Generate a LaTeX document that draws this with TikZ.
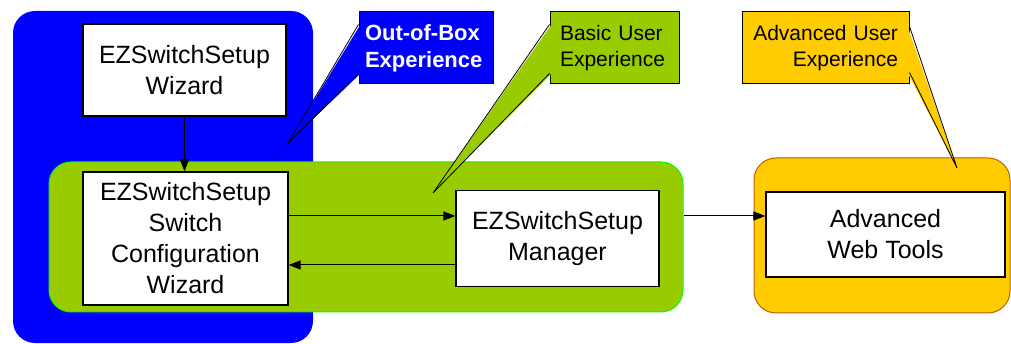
\documentclass[tikz,border=0pt]{standalone}
\usepackage{fontspec}
\setmainfont{Liberation Sans}
\usepackage{tikz}
\usetikzlibrary{arrows.meta,positioning}
\usepackage{xcolor}
\definecolor{oobeblue}{HTML}{0000FF}
\definecolor{basicgreen}{HTML}{99CC00}
\definecolor{basicedge}{HTML}{00FF00}
\definecolor{advorange}{HTML}{FFCC00}
\definecolor{advedge}{HTML}{C06000}

\tikzset{
  region/.style={rounded corners=22pt, inner sep=0pt},
  toolbox/.style={draw=black, fill=white, line width=1.2pt, align=center, inner sep=0pt,
    font=\fontsize{25}{31}\selectfont},
  notebox/.style={draw=black, line width=1pt, inner ysep=0pt, minimum height=72pt,
    font=\fontsize{21}{26}\selectfont},
  tail/.style={draw=black, line width=0.8pt},
}

\begin{document}
\begin{tikzpicture}[x=1pt,y=-1pt,>={Triangle[length=12pt,width=9pt]},line width=1pt]
		\useasboundingbox (0,0) rectangle (1011,344);

		% experience regions
		\node[region, fill=oobeblue, minimum width=300pt, minimum height=332pt] (oobe) at (163,177) {};
		\node[region, fill=basicgreen, draw=basicedge, minimum width=634pt, minimum height=150pt] (basic) at (366,237) {};
		\node[region, fill=advorange, draw=advedge, minimum width=256pt, minimum height=155pt] (adv) at (882,235.5) {};

		% tools
		\node[toolbox, minimum width=203pt, minimum height=92pt] (wiz) at (184.5,70) {EZSwitchSetup\\Wizard};
		\node[toolbox, minimum width=205pt, minimum height=133pt] (cfg) at (185.5,238.5) {EZSwitchSetup\\Switch\\Configuration\\Wizard};
		\node[toolbox, minimum width=203pt, minimum height=96pt] (mgr) at (557.5,238.5) {EZSwitchSetup\\Manager};
		\node[toolbox, minimum width=239pt, minimum height=85pt] (web) at (885.5,234.5) {Advanced\\Web Tools};

		\coordinate (up) at ([yshift=22.5pt]cfg.east);
		\coordinate (down) at ([yshift=-26.5pt]mgr.west);

		\draw[->] (wiz.south) -- (wiz.south |- cfg.north);
		\draw[->] (up) -- (up -| mgr.west);
		\draw[->] (down) -- (down -| cfg.east);
		\draw[->] (up -| basic.east) -- (up -| web.west);

		% callouts
		\coordinate (oobtip) at (288,143);
		\coordinate (basictip) at (433,193);
		\coordinate (advtip) at (957,168);

		\node[notebox, fill=oobeblue, text=white, inner xsep=6pt, text width=122pt, align=left,
			font=\fontsize{22}{27}\selectfont\bfseries] (oobnote) at (426,48) {Out-of-Box\\Experience};
		\fill[oobeblue] ([xshift=2pt,yshift=-13pt]oobnote.north west) -- (oobtip) -- ([xshift=2pt,yshift=11pt]oobnote.south west) -- cycle;
		\draw[tail] ([yshift=-13pt]oobnote.north west) -- (oobtip) -- ([yshift=11pt]oobnote.south west);

		\node[notebox, fill=basicgreen, inner xsep=10pt, text width=109pt, align=left] (basicnote) at (614.5,48) {Basic User\\Experience};
		\fill[basicgreen] ([xshift=2pt,yshift=-13pt]basicnote.north west) -- (basictip) -- ([xshift=2pt,yshift=11pt]basicnote.south west) -- cycle;
		\draw[tail] ([yshift=-13pt]basicnote.north west) -- (basictip) -- ([yshift=11pt]basicnote.south west);

		\node[notebox, fill=advorange, inner xsep=11pt, text width=145pt, align=right] (advnote) at (825.5,48) {Advanced User\\Experience};
		\fill[advorange] ([xshift=-2pt,yshift=-15pt]advnote.north east) -- (advtip) -- ([xshift=-2pt,yshift=12pt]advnote.south east) -- cycle;
		\draw[tail] ([yshift=-15pt]advnote.north east) -- (advtip) -- ([yshift=12pt]advnote.south east);
\end{tikzpicture}
\end{document}
